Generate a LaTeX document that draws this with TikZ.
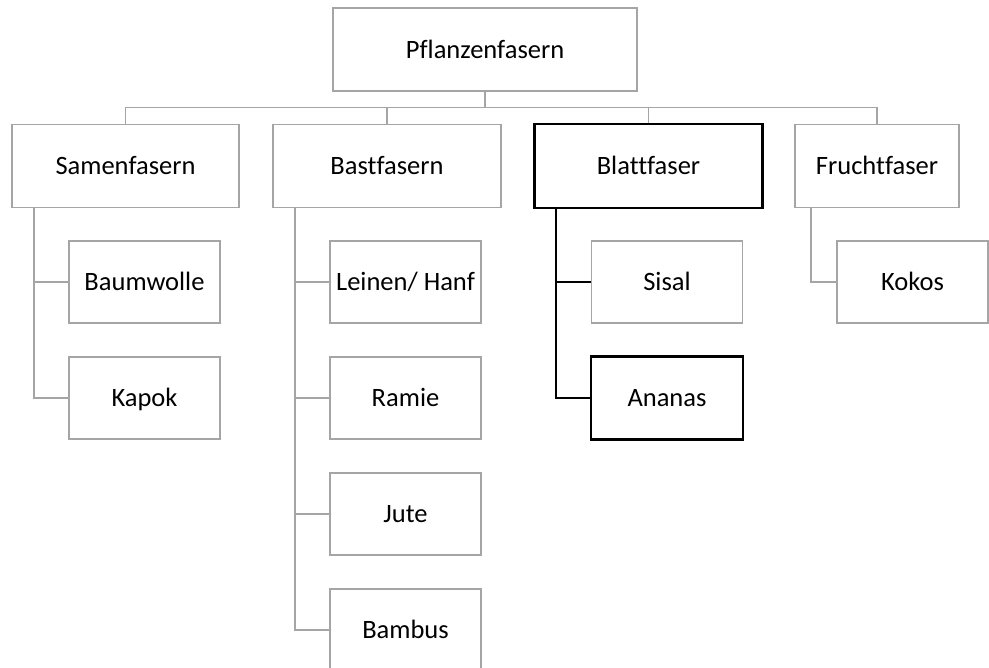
\documentclass[tikz,border=0pt]{standalone}
\usepackage{fontspec}
\setmainfont{Carlito}[Ligatures=NoCommon]
\definecolor{linegray}{HTML}{A5A5A5}
\tikzset{
  box/.style={draw=linegray, line width=1.8pt, fill=white, rectangle, inner sep=0pt,
    minimum height=83pt, font=\fontsize{26.5}{32}\selectfont,
    text height=22.4pt, text depth=5.3pt},
  bigbox/.style={box, minimum width=227pt},
  smallbox/.style={box, minimum width=151pt, minimum height=82pt},
  darkbox/.style={draw=black},
  conn/.style={draw=linegray, line width=1.8pt},
  darkconn/.style={draw=black, line width=1.8pt},
}
\begin{document}
\begin{tikzpicture}[x=1pt,y=-1pt]
\useasboundingbox (0,0) rectangle (989,668);
\clip (0,0) rectangle (989,668);
\fill[white] (0,0) rectangle (989,668);
% nodes
\node[box, minimum width=304pt] (root) at (485,49.5) {Pflanzenfasern};
\node[bigbox] (sam) at (125.5,166) {Samenfasern};
\node[bigbox, minimum width=228pt] (bast) at (387,166) {Bastfasern};
\node[bigbox, darkbox] (blatt) at (648.5,166) {Blattfaser};
\node[box, minimum width=164pt] (frucht) at (877,166) {Fruchtfaser};
\node[smallbox] (baum) at (144.5,282) {Baumwolle};
\node[smallbox] (kapok) at (144.5,398) {Kapok};
\node[smallbox] (leinen) at (405.5,282) {Leinen/ Hanf};
\node[smallbox] (ramie) at (405.5,398) {Ramie};
\node[smallbox] (jute) at (405.5,514) {Jute};
\node[smallbox] (bambus) at (405.5,630) {Bambus};
\node[smallbox] (sisal) at (667,282) {Sisal};
\node[smallbox, darkbox] (ananas) at (667,398) {Ananas};
\node[smallbox] (kokos) at (912.5,282) {Kokos};
% bus
\coordinate (bus) at (485,107.5);
\draw[conn] (root.south) -- (bus);
\draw[conn] (sam.north) |- (bus) -| (frucht.north);
\draw[conn] (bast.north) -- (bast.north |- bus);
\draw[conn] (blatt.north) -- (blatt.north |- bus);
% children
\draw[conn] ([xshift=23pt]sam.south west) |- (baum.west);
\draw[conn] ([xshift=23pt]sam.south west) |- (kapok.west);
\draw[conn] ([xshift=23pt]bast.south west) |- (leinen.west);
\draw[conn] ([xshift=23pt]bast.south west) |- (ramie.west);
\draw[conn] ([xshift=23pt]bast.south west) |- (jute.west);
\draw[conn] ([xshift=23pt]bast.south west) |- (bambus.west);
\draw[darkconn] ([xshift=22pt]blatt.south west) |- (sisal.west);
\draw[darkconn] ([xshift=22pt]blatt.south west) |- (ananas.west);
\draw[conn] ([xshift=17pt]frucht.south west) |- (kokos.west);
% redraw dark box borders on top
\draw[black, line width=1.8pt] (blatt.south west) rectangle (blatt.north east);
\draw[black, line width=1.8pt] (ananas.south west) rectangle (ananas.north east);
\end{tikzpicture}
\end{document}
